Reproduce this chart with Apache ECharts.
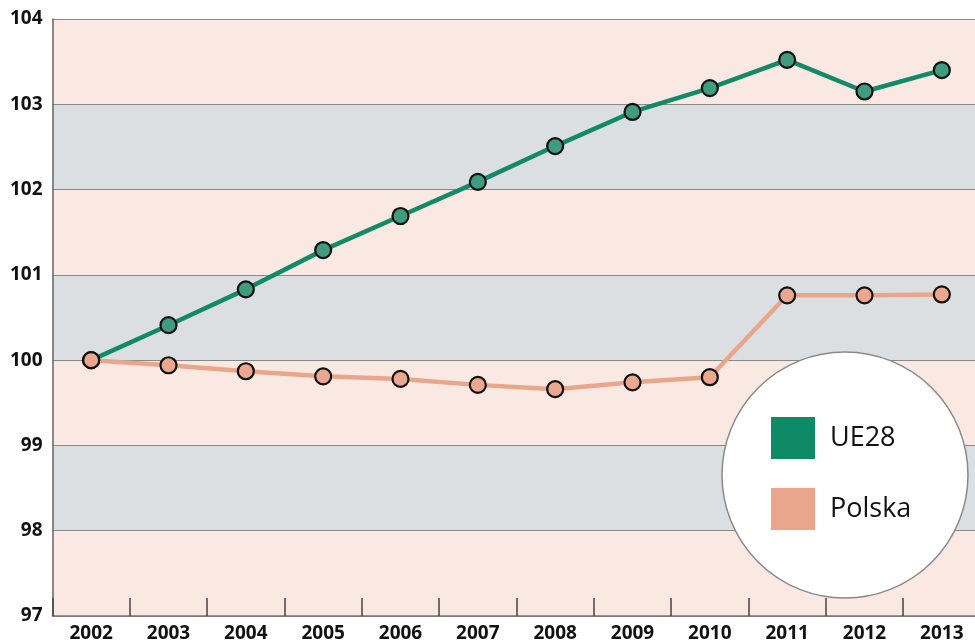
<!DOCTYPE html>
<html>
<head>
<meta charset="utf-8">
<script src="https://cdn.jsdelivr.net/npm/echarts@6/dist/echarts.min.js"></script>
<style>
html, body { margin: 0; padding: 0; background: #fff; }
#chart { width: 975px; height: 644px; }
</style>
</head>
<body>
<div id="chart"></div>
<script>
// lata
var years = ['2002', '2003', '2004', '2005', '2006', '2007', '2008', '2009', '2010', '2011', '2012', '2013'];

var ue28 = [100, 100.41, 100.83, 101.29, 101.69, 102.09, 102.51, 102.91, 103.19, 103.52, 103.15, 103.40];
var polska = [100, 99.94, 99.87, 99.81, 99.78, 99.71, 99.66, 99.74, 99.80, 100.76, 100.76, 100.77];

var yTicks = [97, 98, 99, 100, 101, 102, 103, 104];

var chart = echarts.init(document.getElementById('chart'));

var font = '"Open Sans", sans-serif';

function lineSerie(name, data, lineColor, dotColor){
	return {
		name : name,
		type : 'line',
		data : data,
		symbol : 'circle',
		symbolSize : 16,
		z : 5,
		lineStyle : { color : lineColor, width : 4.5 },
		itemStyle : { color : dotColor, borderColor : '#111', borderWidth : 2.2 },
		emphasis : { disabled : true },
		animation : false
	};
}

var option = {
	animation : false,
	grid : { left : 52.5, width : 928, top : 19, height : 597, outerBoundsMode : 'none', containLabel : false },
	xAxis : {
		type : 'category',
		data : years,
		boundaryGap : true,
		axisLine : { lineStyle : { color : '#777', width : 1.5 } },
		axisTick : { show : true, inside : true, length : 18, lineStyle : { color : '#444', width : 1.5 } },
		axisLabel : { color : '#111', fontFamily : font, fontWeight : 'bold', fontSize : 19, margin : 8 }
	},
	yAxis : {
		type : 'value',
		min : yTicks[0],
		max : yTicks[yTicks.length - 1],
		interval : 1,
		axisLine : { show : true, lineStyle : { color : '#666', width : 1.5 } },
		axisTick : { show : false },
		axisLabel : { color : '#111', fontFamily : font, fontWeight : 'bold', fontSize : 19, margin : 10 },
		splitLine : { show : true, lineStyle : { color : '#888', width : 1.2 } },
		splitArea : { show : true, areaStyle : { color : ['#f9e9e2', '#dcdfe1'] } }
	},
	legend : {
		orient : 'vertical',
		left : 771,
		top : 417,
		padding : 0,
		z : 60,
		itemWidth : 44,
		itemHeight : 42,
		itemGap : 29,
		icon : 'rect',
		selectedMode : false,
		textStyle : { fontFamily : font, fontSize : 27, color : '#111', padding : [0, 0, 0, 10] },
		data : [
			{ name : 'UE28', itemStyle : { color : '#0e8a66', borderWidth : 0 } },
			{ name : 'Polska', itemStyle : { color : '#e9a68c', borderWidth : 0 } }
		]
	},
	graphic : [{
		type : 'circle',
		z : 50,
		shape : { cx : 845, cy : 475, r : 123 },
		style : { fill : '#fff', stroke : '#8a8a8a', lineWidth : 1.5 }
	}],
	series : [
		lineSerie('UE28', ue28, '#138a67', '#3f9c7f'),
		lineSerie('Polska', polska, '#eaa68b', '#eca88f')
	]
};

chart.setOption(option);
</script>
</body>
</html>
